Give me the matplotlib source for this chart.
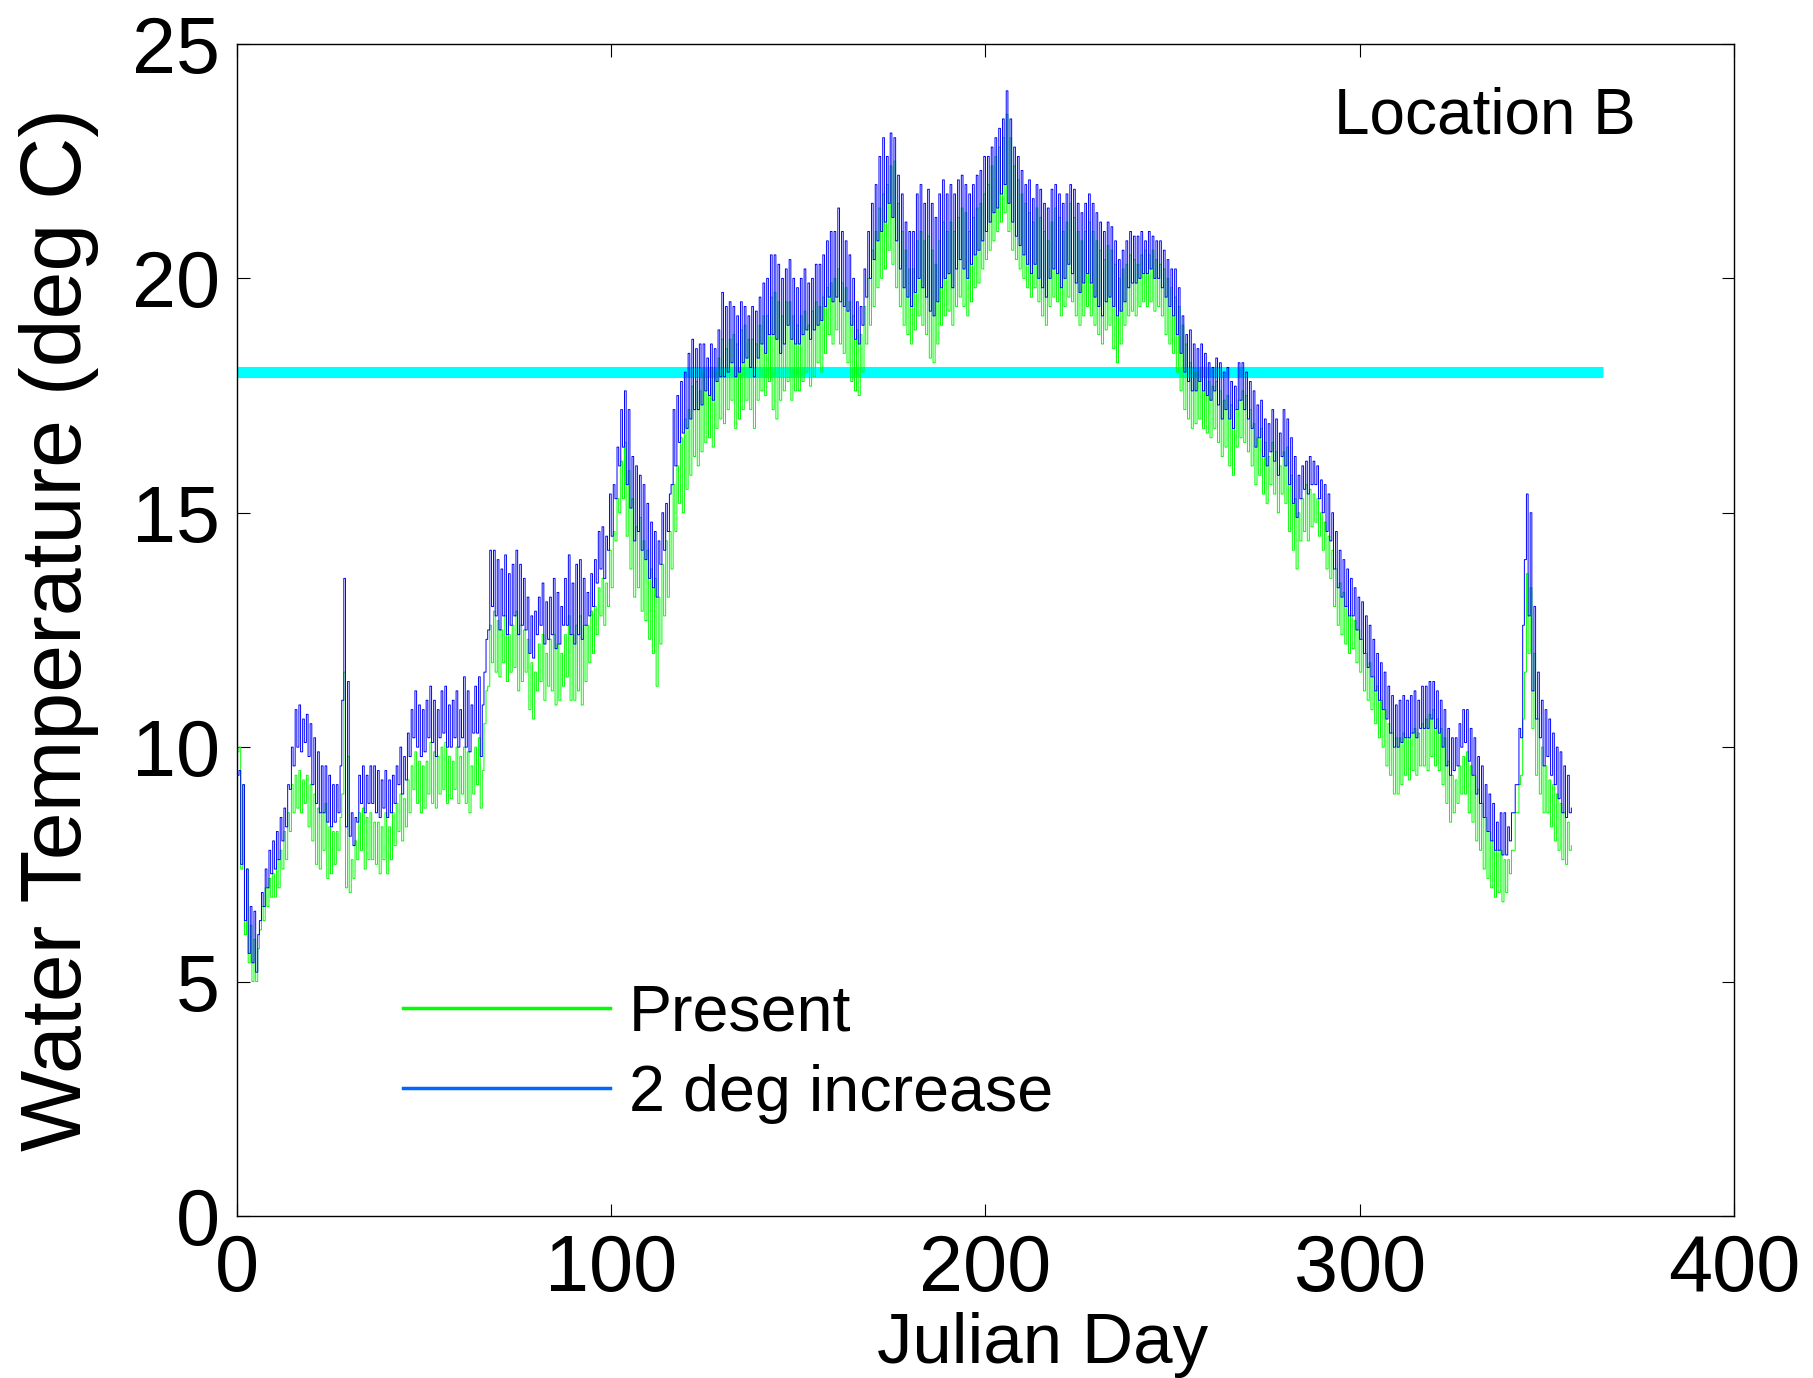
import numpy as np
import matplotlib
matplotlib.use("Agg")
import matplotlib.pyplot as plt
from matplotlib.lines import Line2D

plt.rcParams['font.family'] = ['Liberation Sans', 'DejaVu Sans']

# daily low / high water temperature (deg C), Julian day 0..356
present_low = [
    9.9, 7.4, 6.0, 5.4, 5.0, 5.0, 6.1, 6.3, 6.6, 6.8,
    6.8, 7.0, 7.4, 7.6, 8.2, 8.6, 8.7, 8.6, 8.8, 8.3,
    8.0, 7.5, 7.4, 7.8, 7.2, 7.3, 7.5, 7.8, 9.0, 7.0,
    6.9, 7.2, 7.6, 7.8, 7.4, 7.6, 7.6, 7.5, 7.3, 7.6,
    7.3, 7.6, 7.9, 8.2, 8.0, 8.3, 8.6, 9.1, 8.8, 8.6,
    8.7, 9.0, 8.8, 8.7, 9.0, 9.1, 8.8, 8.9, 9.1, 8.8,
    9.0, 8.8, 8.6, 9.0, 9.2, 8.7, 10.5, 11.3, 11.8, 11.6,
    11.5, 11.8, 11.4, 11.6, 11.7, 11.2, 11.4, 11.6, 10.8, 10.6,
    11.2, 11.4, 11.0, 11.3, 11.2, 10.9, 11.0, 11.3, 11.5, 11.0,
    11.0, 11.2, 10.9, 11.4, 11.8, 12.0, 12.4, 12.8, 12.6, 13.0,
    13.4, 14.4, 15.0, 15.3, 14.5, 13.8, 13.2, 13.4, 12.9, 12.7,
    12.3, 12.0, 11.3, 12.2, 12.8, 13.2, 13.8, 14.6, 15.2, 15.0,
    15.5, 15.8, 16.2, 16.0, 16.3, 16.5, 16.6, 16.4, 16.8, 17.0,
    16.9, 17.2, 17.4, 16.8, 17.0, 17.2, 17.4, 17.2, 16.8, 17.4,
    17.6, 17.5, 17.8, 17.2, 17.0, 17.4, 17.6, 17.8, 17.4, 17.6,
    17.6, 17.8, 18.0, 17.7, 17.9, 18.2, 18.0, 18.4, 18.8, 18.6,
    18.9, 18.6, 18.4, 18.2, 17.8, 17.6, 17.5, 18.0, 18.6, 19.0,
    19.4, 19.8, 20.0, 20.2, 20.6, 20.3, 19.8, 19.4, 19.0, 18.8,
    18.6, 18.9, 19.2, 19.0, 18.8, 18.3, 18.2, 18.6, 19.0, 19.2,
    19.3, 19.0, 19.4, 19.6, 19.4, 19.2, 19.5, 19.8, 19.9, 20.2,
    20.4, 20.6, 20.8, 21.0, 21.2, 21.4, 21.0, 20.6, 20.4, 20.2,
    20.0, 19.8, 19.6, 19.8, 19.5, 19.2, 19.0, 19.4, 19.6, 19.5,
    19.2, 19.4, 19.6, 19.5, 19.2, 19.0, 19.2, 19.4, 19.2, 19.0,
    18.8, 18.6, 18.9, 19.0, 18.5, 18.2, 18.6, 19.0, 19.2, 19.3,
    19.2, 19.4, 19.5, 19.4, 19.5, 19.3, 19.4, 19.2, 18.8, 18.6,
    18.4, 18.0, 17.6, 17.2, 17.0, 16.8, 16.9, 17.0, 16.8, 16.7,
    16.6, 16.8, 16.5, 16.2, 16.4, 16.0, 15.8, 16.4, 16.6, 16.5,
    16.3, 16.0, 15.6, 15.8, 15.4, 15.2, 15.6, 15.4, 15.0, 15.4,
    15.2, 14.6, 14.2, 13.8, 14.4, 14.6, 14.4, 14.7, 14.8, 14.5,
    14.2, 13.8, 13.6, 13.0, 12.6, 12.4, 12.2, 12.0, 12.1, 11.8,
    11.6, 11.2, 11.0, 10.8, 10.5, 10.2, 10.0, 9.6, 9.4, 9.0,
    9.0, 9.2, 9.4, 9.3, 9.5, 9.4, 9.6, 9.6, 9.5, 9.8,
    9.6, 9.5, 9.2, 8.8, 8.4, 8.6, 8.8, 9.0, 9.0, 8.6,
    8.4, 8.0, 7.8, 7.4, 7.2, 7.0, 6.8, 6.9, 6.7, 6.9,
    7.3, 7.8, 8.6, 9.4, 11.6, 12.0, 10.4, 9.4, 9.0, 8.6,
    8.6, 8.3, 8.0, 7.8, 7.6, 7.5, 7.8,
]
present_high = [
    10.0, 9.2, 7.4, 6.2, 5.9, 5.7, 6.6, 7.0, 7.2, 7.3,
    7.6, 7.8, 8.2, 8.6, 9.2, 9.4, 9.5, 9.3, 9.4, 9.2,
    9.0, 8.7, 8.6, 8.8, 8.3, 8.2, 8.2, 8.5, 11.6, 9.8,
    7.6, 8.0, 8.6, 8.7, 8.5, 8.6, 8.4, 8.4, 8.3, 8.6,
    8.3, 8.6, 8.8, 9.0, 8.9, 9.3, 9.6, 9.9, 9.7, 9.6,
    9.7, 10.1, 9.9, 9.8, 10.0, 10.1, 9.8, 9.7, 10.0, 9.8,
    10.0, 9.9, 9.6, 10.0, 10.2, 9.5, 11.2, 12.6, 12.9, 12.7,
    12.5, 12.8, 12.4, 12.6, 12.9, 12.6, 12.5, 12.3, 11.8, 11.6,
    12.2, 12.4, 12.0, 12.3, 12.4, 12.2, 12.0, 12.4, 12.8, 12.4,
    12.6, 12.8, 12.6, 12.6, 12.9, 13.0, 13.4, 13.6, 13.5, 14.2,
    14.6, 15.3, 16.1, 16.5, 15.9, 15.3, 14.7, 14.9, 14.4, 14.2,
    13.8, 13.6, 13.2, 13.9, 14.4, 14.6, 15.6, 16.0, 16.6, 17.0,
    17.2, 17.7, 17.8, 17.6, 18.0, 17.9, 18.1, 18.0, 18.3, 18.7,
    18.5, 18.7, 18.8, 18.6, 18.9, 19.0, 18.7, 18.7, 18.6, 19.0,
    19.2, 19.2, 19.6, 19.7, 19.5, 19.2, 19.5, 19.5, 19.2, 19.0,
    19.2, 19.3, 19.0, 19.3, 19.5, 19.4, 19.6, 19.8, 19.9, 20.0,
    20.2, 19.9, 19.8, 19.5, 19.2, 18.9, 18.8, 19.4, 20.0, 20.6,
    21.0, 21.5, 21.8, 22.0, 22.4, 22.5, 21.6, 21.0, 20.6, 20.2,
    20.2, 20.8, 21.0, 20.8, 20.9, 20.6, 20.3, 20.8, 21.2, 21.0,
    21.2, 21.0, 21.3, 21.5, 21.4, 21.0, 21.3, 21.5, 21.6, 21.8,
    22.0, 22.4, 22.6, 22.8, 23.0, 23.5, 23.0, 22.4, 22.1, 21.8,
    21.6, 21.4, 21.2, 21.5, 21.3, 21.0, 20.8, 21.2, 21.5, 21.3,
    21.0, 21.2, 21.6, 21.3, 21.0, 20.8, 21.0, 21.2, 21.0, 20.8,
    20.6, 20.4, 20.7, 20.6, 20.3, 20.0, 20.2, 20.3, 20.5, 20.4,
    20.3, 20.5, 20.6, 20.5, 20.6, 20.4, 20.3, 20.2, 20.0, 19.8,
    19.6, 19.4, 19.0, 18.6, 18.2, 18.0, 18.0, 18.1, 17.9, 17.8,
    17.7, 17.8, 17.6, 17.4, 17.5, 17.3, 17.2, 17.4, 17.6, 17.5,
    17.2, 16.9, 16.6, 16.8, 16.5, 16.2, 16.5, 16.3, 16.0, 16.3,
    16.4, 15.8, 15.3, 15.0, 15.3, 15.6, 15.5, 15.4, 15.3, 15.0,
    14.8, 14.5, 14.2, 13.8, 13.5, 13.3, 13.0, 12.8, 12.7, 12.5,
    12.3, 12.0, 11.8, 11.5, 11.3, 11.0, 10.8, 10.5, 10.3, 10.2,
    10.2, 10.3, 10.2, 10.3, 10.4, 10.3, 10.5, 10.6, 10.7, 10.8,
    10.6, 10.4, 10.2, 9.7, 9.4, 9.3, 9.6, 9.8, 9.9, 9.6,
    9.4, 9.1, 8.8, 8.5, 8.2, 8.0, 7.8, 7.8, 7.6, 7.6,
    7.8, 8.6, 9.2, 10.6, 13.7, 13.4, 12.0, 10.6, 10.0, 9.6,
    9.3, 9.2, 9.0, 8.8, 8.6, 8.4, 7.9,
]
plus2_low = [
    9.4, 7.5, 6.3, 5.6, 5.4, 5.2, 6.3, 6.6, 7.0, 7.3,
    7.4, 7.6, 8.0, 8.3, 9.1, 9.6, 10.0, 9.9, 10.1, 9.8,
    9.2, 8.8, 8.6, 8.6, 8.4, 8.3, 8.4, 8.6, 11.0, 8.3,
    8.1, 7.9, 8.4, 8.8, 8.6, 8.8, 8.8, 8.6, 8.5, 8.7,
    8.5, 8.6, 8.8, 9.2, 9.0, 9.3, 9.8, 10.2, 10.0, 9.8,
    9.9, 10.2, 10.1, 9.8, 10.2, 10.3, 10.0, 10.0, 10.2, 10.0,
    10.2, 10.0, 9.9, 10.3, 10.3, 9.8, 11.6, 12.5, 13.0, 12.8,
    12.5, 12.8, 12.4, 12.6, 12.8, 12.4, 12.6, 12.5, 12.0, 11.9,
    12.4, 12.6, 12.2, 12.3, 12.4, 12.1, 12.2, 12.6, 12.6, 12.4,
    12.2, 12.4, 12.3, 12.6, 12.8, 13.0, 13.5, 13.8, 13.6, 14.2,
    14.5, 15.3, 16.0, 16.4, 15.6, 15.1, 14.4, 14.6, 14.2, 14.0,
    13.6, 13.4, 13.2, 13.9, 14.2, 14.6, 15.6, 16.0, 16.5, 16.7,
    16.8, 17.0, 17.2, 17.2, 17.3, 17.6, 17.5, 17.4, 17.8, 17.9,
    17.9, 18.0, 18.2, 17.9, 18.0, 18.2, 18.3, 18.1, 17.9, 18.3,
    18.6, 18.4, 18.8, 18.8, 18.7, 18.4, 18.6, 19.0, 18.7, 18.6,
    18.6, 18.8, 18.9, 18.7, 18.9, 19.0, 19.1, 19.4, 19.6, 19.5,
    19.6, 19.5, 19.4, 19.3, 19.0, 18.7, 18.6, 19.0, 19.6, 20.0,
    20.4, 20.8, 21.0, 21.2, 21.6, 21.3, 20.8, 20.2, 19.8, 19.6,
    19.4, 19.7, 20.0, 19.8, 19.6, 19.3, 19.2, 19.5, 19.8, 20.0,
    20.1, 19.8, 20.2, 20.4, 20.2, 20.0, 20.3, 20.5, 20.6, 20.8,
    21.0, 21.2, 21.4, 21.5, 21.8, 22.0, 21.6, 21.2, 20.9, 20.7,
    20.5, 20.3, 20.1, 20.3, 20.0, 19.8, 19.6, 20.0, 20.2, 20.1,
    19.8, 20.0, 20.3, 20.1, 19.9, 19.7, 19.9, 20.1, 19.9, 19.6,
    19.4, 19.2, 19.5, 19.6, 19.4, 19.2, 19.3, 19.5, 19.8, 19.9,
    19.9, 20.0, 20.1, 20.1, 20.2, 20.0, 20.0, 19.8, 19.6, 19.4,
    19.2, 18.8, 18.4, 18.0, 17.8, 17.6, 17.6, 17.8, 17.6, 17.5,
    17.4, 17.6, 17.3, 17.0, 17.2, 17.0, 16.8, 17.2, 17.4, 17.2,
    17.0, 16.8, 16.4, 16.6, 16.2, 16.0, 16.3, 16.1, 15.8, 16.2,
    16.0, 15.6, 15.2, 14.9, 15.3, 15.5, 15.4, 15.6, 15.6, 15.3,
    15.0, 14.6, 14.4, 13.8, 13.4, 13.2, 13.0, 12.8, 12.8, 12.5,
    12.3, 12.0, 11.7, 11.5, 11.2, 11.0, 10.8, 10.6, 10.3, 10.0,
    10.0, 10.1, 10.2, 10.2, 10.3, 10.2, 10.4, 10.4, 10.4, 10.6,
    10.4, 10.3, 10.0, 9.6, 9.4, 9.5, 9.6, 10.0, 10.1, 9.7,
    9.4, 9.0, 8.8, 8.5, 8.2, 8.0, 7.8, 7.8, 7.7, 7.7,
    8.0, 8.6, 9.2, 10.2, 14.0, 12.8, 11.2, 10.6, 10.2, 9.6,
    9.8, 9.4, 9.2, 8.9, 8.6, 8.5, 8.6,
]
plus2_high = [
    9.5, 9.2, 7.4, 6.6, 6.5, 6.0, 6.9, 7.4, 7.8, 8.0,
    8.2, 8.5, 8.7, 9.2, 10.0, 10.8, 10.9, 10.6, 10.7, 10.5,
    10.2, 9.9, 9.6, 9.6, 9.4, 9.2, 9.2, 9.6, 13.6, 11.4,
    8.6, 8.5, 9.4, 9.6, 9.4, 9.6, 9.6, 9.5, 9.3, 9.5,
    9.3, 9.4, 9.6, 10.0, 9.8, 10.3, 10.8, 11.2, 10.9, 10.8,
    11.0, 11.3, 11.0, 10.8, 11.2, 11.3, 10.9, 11.0, 11.2, 10.8,
    11.5, 11.2, 10.9, 11.3, 11.5, 10.9, 12.3, 14.2, 14.2, 14.0,
    13.8, 14.1, 13.7, 13.9, 14.2, 13.9, 13.6, 13.2, 12.8, 12.9,
    13.2, 13.5, 13.1, 13.2, 13.6, 13.3, 13.0, 13.6, 14.1, 13.5,
    13.9, 14.0, 13.6, 13.3, 13.7, 14.0, 14.6, 14.7, 14.5, 15.4,
    15.6, 16.4, 17.2, 17.6, 17.2, 16.2, 16.0, 15.8, 15.6, 15.2,
    14.8, 14.6, 14.4, 15.0, 15.2, 15.4, 17.2, 17.5, 17.8, 18.0,
    18.4, 18.7, 18.5, 18.6, 18.6, 18.3, 18.6, 18.5, 18.9, 19.7,
    19.4, 19.5, 19.4, 19.2, 19.5, 19.4, 19.2, 19.4, 19.3, 19.6,
    19.9, 20.0, 20.5, 20.5, 20.3, 20.0, 20.2, 20.4, 20.0, 19.8,
    20.0, 20.2, 19.9, 20.0, 20.3, 20.3, 20.5, 20.8, 21.0, 21.0,
    21.5, 21.0, 20.8, 20.5, 20.0, 19.5, 19.4, 20.2, 21.0, 21.6,
    22.0, 22.6, 23.0, 22.6, 23.1, 23.0, 22.2, 21.8, 21.2, 21.0,
    21.0, 21.8, 22.0, 21.6, 21.9, 21.6, 21.3, 21.8, 22.1, 21.8,
    22.0, 21.8, 22.1, 22.2, 22.0, 21.8, 22.0, 22.2, 22.3, 22.6,
    22.6, 22.8, 23.0, 23.2, 23.4, 24.0, 23.4, 22.8, 22.6, 22.3,
    22.0, 22.1, 21.7, 22.0, 21.9, 21.6, 21.5, 21.9, 22.0, 21.8,
    21.6, 21.8, 22.0, 21.9, 21.6, 21.4, 21.6, 21.8, 21.6, 21.4,
    21.2, 21.0, 21.2, 21.1, 20.8, 20.4, 20.6, 20.8, 21.0, 20.9,
    20.9, 21.0, 20.8, 21.0, 20.9, 20.8, 20.8, 20.6, 20.4, 20.2,
    20.2, 19.8, 19.2, 18.8, 18.9, 18.6, 18.5, 18.6, 18.4, 18.2,
    18.1, 18.3, 18.2, 18.0, 18.1, 17.8, 17.7, 18.2, 18.2, 18.0,
    17.8, 17.6, 17.3, 17.4, 17.0, 16.9, 17.2, 17.0, 16.7, 17.2,
    17.0, 16.6, 16.2, 15.8, 16.0, 16.1, 16.2, 16.1, 16.0, 15.7,
    15.6, 15.4, 15.0, 14.6, 14.2, 14.0, 13.8, 13.6, 13.4, 13.2,
    13.1, 12.8, 12.6, 12.3, 12.0, 11.8, 11.6, 11.3, 11.1, 10.9,
    11.0, 11.1, 11.0, 11.1, 11.2, 11.0, 11.3, 11.3, 11.4, 11.4,
    11.2, 11.0, 10.8, 10.4, 10.2, 10.2, 10.5, 10.8, 10.8, 10.4,
    10.2, 9.8, 9.6, 9.2, 9.0, 8.8, 8.4, 8.6, 8.6, 8.3,
    8.6, 9.2, 10.4, 12.6, 15.4, 15.0, 13.0, 11.6, 11.0, 10.8,
    10.6, 10.3, 10.0, 9.9, 9.6, 9.4, 8.7,
]

threshold = 18.0
threshold_days = [0, 365]

days = np.arange(len(present_low))


def diurnal(low, high):
    # one low and one high sample per day, drawn as steps
    t = np.column_stack([days, days + 0.55]).ravel()
    v = np.column_stack([low, high]).ravel()
    return t, v


fig = plt.figure(figsize=(18.13, 13.78), dpi=100)
ax = fig.add_axes([0.1307, 0.1176, 0.8257, 0.8505])

ax.plot(threshold_days, [threshold, threshold], color='#00ffff', lw=8,
        solid_capstyle='butt', zorder=1)

t, v = diurnal(present_low, present_high)
ax.plot(t, v, color='#00ff00', lw=0.7, drawstyle='steps-post', zorder=2)
t, v = diurnal(plus2_low, plus2_high)
ax.plot(t, v, color='#0000ff', lw=0.7, drawstyle='steps-post', zorder=3)

ax.set_xlim(0, 400)
ax.set_ylim(0, 25)
ax.set_xticks([0, 100, 200, 300, 400])
ax.set_yticks([0, 5, 10, 15, 20, 25])
ax.tick_params(direction='in', length=9, width=0.8, labelsize=57,
               top=True, right=True, pad=12)
for s in ax.spines.values():
    s.set_linewidth(1.0)

ax.set_xlabel('Julian Day', fontsize=51)
ax.xaxis.set_label_coords(0.538, -0.11, transform=ax.transAxes)
ax.xaxis.label.set_va('center')
ax.set_ylabel('Water Temperature (deg C)', fontsize=62, labelpad=24)

ax.text(293, 23.45, 'Location B', fontsize=46, ha='left', va='center')

handles = [Line2D([], [], color='#00ff00', lw=2.5),
           Line2D([], [], color='#0066ff', lw=2.5)]
ax.legend(handles, ['Present', '2 deg increase'], loc='lower left',
          bbox_to_anchor=(0.072, 0.029), frameon=False, fontsize=46.5,
          handlelength=3.2, handletextpad=0.3, labelspacing=0.31)

fig.savefig('out.png', dpi=100)
